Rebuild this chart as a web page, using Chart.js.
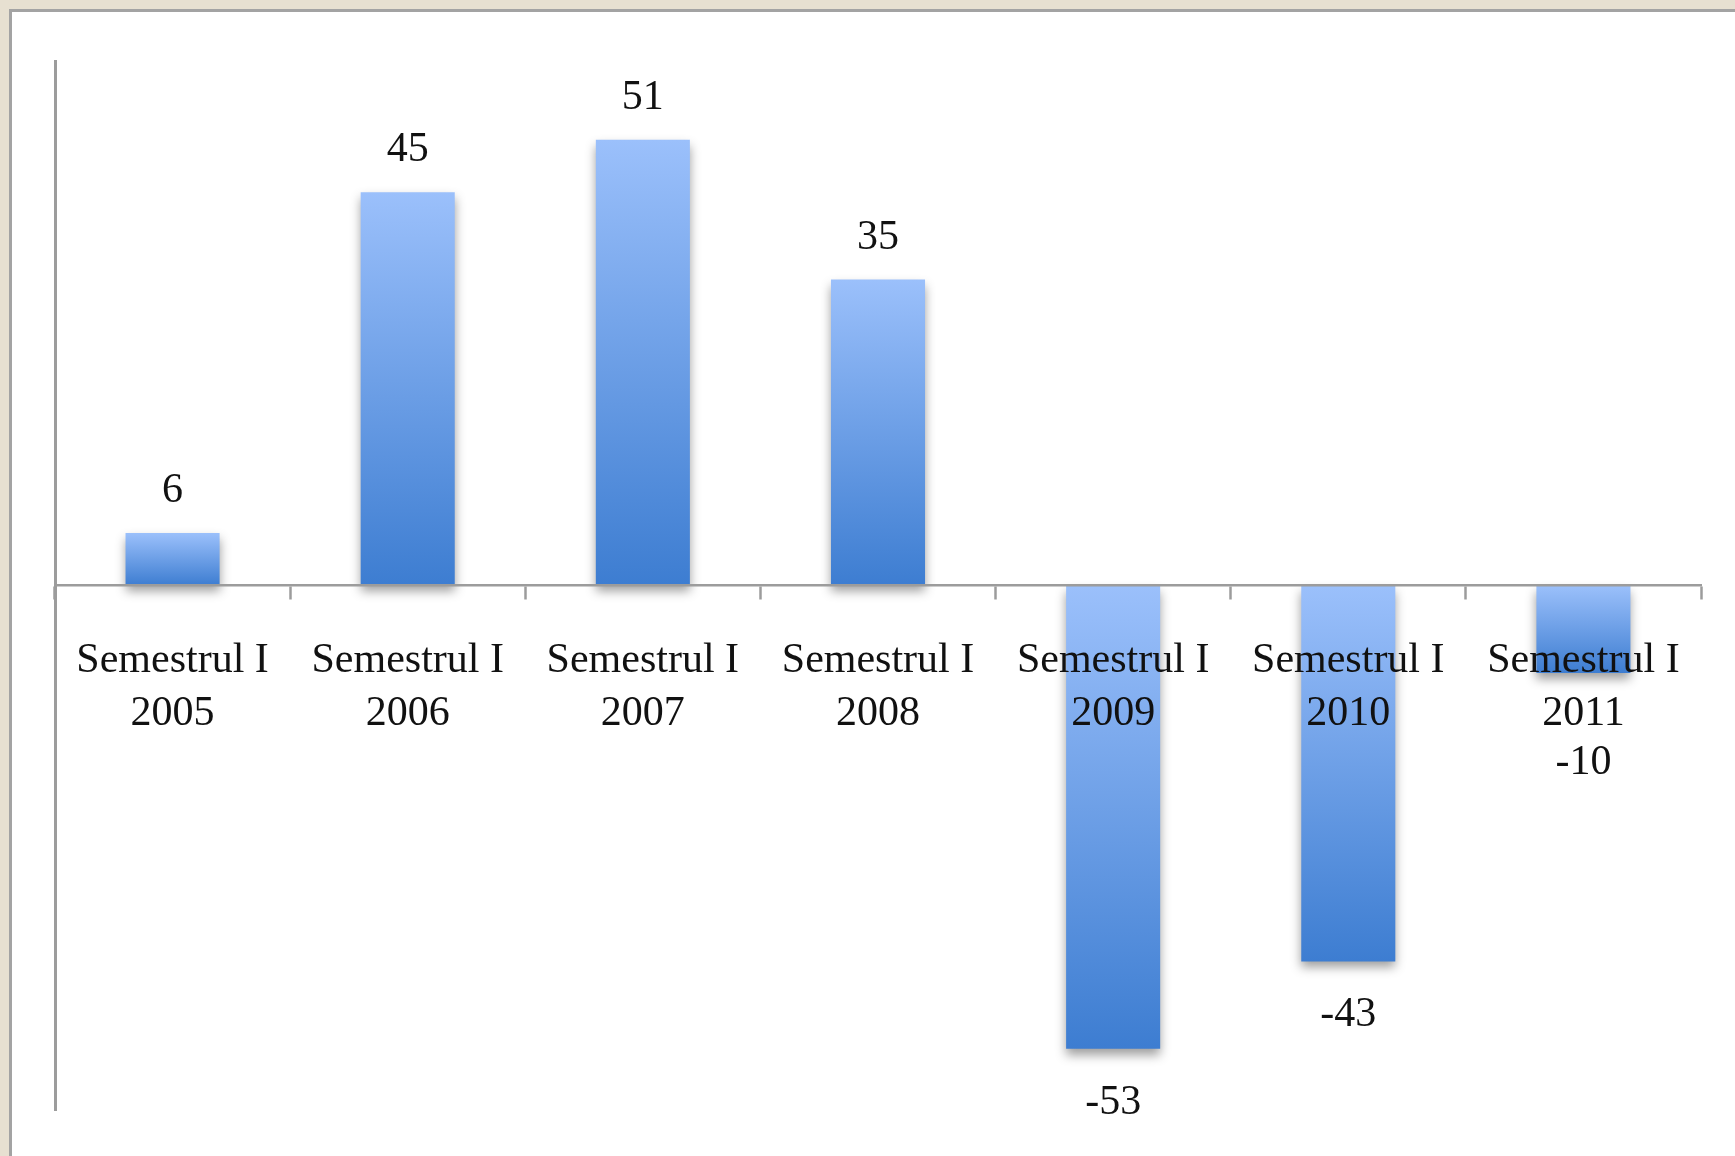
<!DOCTYPE html>
<html>
<head>
<meta charset="utf-8">
<script src="https://cdn.jsdelivr.net/npm/chart.js@4/dist/chart.umd.min.js"></script>
<style>
  html, body { margin: 0; padding: 0; width: 1735px; height: 1156px; overflow: hidden; background: #e7e0d1; }
  #panel { position: absolute; left: 9px; top: 9px; right: 0; bottom: 0; background: #ffffff;
           border-left: 3px solid #a3a3a3; border-top: 3px solid #a3a3a3; }
  #wrap { position: absolute; left: 0; top: 0; width: 1735px; height: 1156px; }
</style>
</head>
<body>
<div id="panel"></div>
<div id="wrap"><canvas id="c"></canvas></div>
<script>
// ---- data ----
const categories = [
  ["Semestrul I", "2005"],
  ["Semestrul I", "2006"],
  ["Semestrul I", "2007"],
  ["Semestrul I", "2008"],
  ["Semestrul I", "2009"],
  ["Semestrul I", "2010"],
  ["Semestrul I", "2011"]
];
const values = [6, 45, 51, 35, -53, -43, -10];
const yMin = -60;
const yMax = 60;

// ---- styles ----
const FONT = "'Liberation Serif', 'Times New Roman', serif";
const FONT_SIZE = 42;
const LINE_H = 1.26;
const AXIS_COLOR = '#9c9c9c';
const TOP_COLOR = '#9bc0fb';
const BOTTOM_COLOR = '#3d7dd1';
const TICK_LEN = 13;
const TICK_PAD = 36;

function barGradient(ctx) {
  const chart = ctx.chart;
  const y = chart.scales && chart.scales.y;
  if (ctx.type !== 'data' || !y) return BOTTOM_COLOR;
  const v = ctx.raw;
  const top = y.getPixelForValue(Math.max(v, 0));
  const bottom = y.getPixelForValue(Math.min(v, 0));
  if (!isFinite(top) || !isFinite(bottom) || top === bottom) return BOTTOM_COLOR;
  const g = chart.ctx.createLinearGradient(0, top, 0, bottom);
  g.addColorStop(0, TOP_COLOR);
  g.addColorStop(1, BOTTOM_COLOR);
  return g;
}

const shadowPlugin = {
  id: 'barShadow',
  beforeDatasetDraw(chart) {
    const c = chart.ctx;
    c.save();
    c.shadowColor = 'rgba(0,0,0,0.38)';
    c.shadowBlur = 10;
    c.shadowOffsetX = 0;
    c.shadowOffsetY = 6;
  },
  afterDatasetDraw(chart) {
    chart.ctx.restore();
  }
};

const valueLabels = {
  id: 'valueLabels',
  afterDatasetsDraw(chart) {
    const c = chart.ctx;
    const meta = chart.getDatasetMeta(0);
    const zero = chart.scales.y.getPixelForValue(0);
    const lineH = FONT_SIZE * LINE_H;
    // lowest allowed centre for labels below the axis: under the two-line category labels
    const minBelow = zero + TICK_LEN + TICK_PAD + 2.5 * lineH - 4;
    c.save();
    c.font = FONT_SIZE + 'px ' + FONT;
    c.fillStyle = '#111111';
    c.textAlign = 'center';
    c.textBaseline = 'middle';
    meta.data.forEach((bar, i) => {
      const v = values[i];
      let y;
      if (v >= 0) {
        y = bar.y - 42;
      } else {
        y = bar.y + 54;
        if (y < minBelow) y = minBelow;
      }
      c.fillText(String(v), bar.x, y);
    });
    c.restore();
  }
};

new Chart(document.getElementById('c'), {
  type: 'bar',
  data: {
    labels: categories,
    datasets: [{
      data: values,
      backgroundColor: barGradient,
      borderWidth: 0,
      barPercentage: 0.4,
      categoryPercentage: 1.0
    }]
  },
  options: {
    responsive: true,
    maintainAspectRatio: false,
    animation: false,
    events: [],
    layout: { padding: { left: 55, top: 61, right: 34, bottom: 46 } },
    plugins: {
      legend: { display: false },
      tooltip: { enabled: false },
      title: { display: false }
    },
    scales: {
      x: {
        type: 'category',
        position: { y: 0 },
        offset: true,
        afterFit: (s) => { s.height = 0; },
        grid: {
          offset: true,
          drawOnChartArea: false,
          drawTicks: true,
          tickLength: TICK_LEN,
          tickWidth: 2.5,
          tickColor: AXIS_COLOR,
          z: 1
        },
        border: { display: true, color: AXIS_COLOR, width: 2.5, z: 1 },
        ticks: {
          color: '#111111',
          font: { family: FONT, size: FONT_SIZE, lineHeight: LINE_H },
          padding: TICK_PAD,
          maxRotation: 0,
          minRotation: 0,
          autoSkip: false,
          z: 1
        }
      },
      y: {
        min: yMin,
        max: yMax,
        afterFit: (s) => { s.width = 0; },
        ticks: { display: false },
        grid: { drawOnChartArea: false, drawTicks: false },
        border: { display: true, color: AXIS_COLOR, width: 3 }
      }
    }
  },
  plugins: [shadowPlugin, valueLabels]
});
</script>
</body>
</html>
